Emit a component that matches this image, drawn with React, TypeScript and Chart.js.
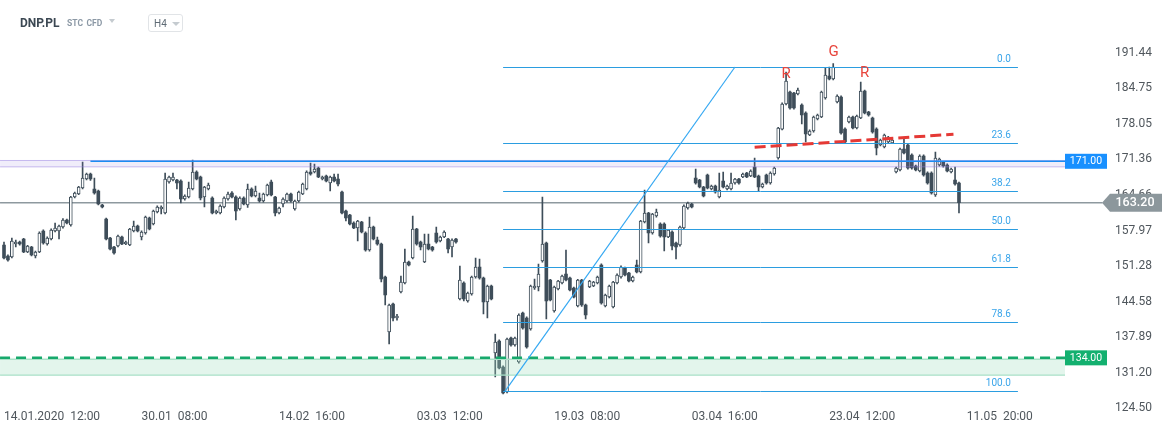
import React, { useEffect, useRef } from 'react';
import { Chart, registerables } from 'chart.js';

Chart.register(...registerables);
Chart.defaults.font.family = 'Roboto';

// ---------- DATA (H4 candles, DNP.PL) ----------
const opens = [
  155.24,153.17,152.98,155.43,155.80,156.37,153.92,154.86,153.17,153.92,
  157.87,155.43,156.37,157.87,157.87,158.63,159.95,159.00,164.27,164.84,
  165.97,167.66,168.60,165.78,165.40,162.77,160.13,156.56,154.86,155.05,
  156.75,155.43,155.24,157.87,158.82,156.75,157.50,160.32,
  159.19,161.45,162.01,161.26,167.10,167.48,167.48,167.29,163.90,164.27,
  165.78,168.98,168.04,164.27,165.78,164.09,161.26,161.26,162.39,163.90,
  165.03,164.27,162.01,164.09,162.77,165.78,164.46,164.09,163.52,164.65,
  167.10,164.27,161.26,162.96,163.52,164.84,162.01,163.52,
  164.84,165.78,168.98,168.98,169.73,167.66,168.23,166.91,168.04,167.66,
  165.22,161.64,160.89,159.38,158.44,159.57,157.50,154.30,158.63,156.18,
  155.43,149.22,138.86,144.13,141.50,146.39,148.09,152.04,152.79,158.25,
  155.80,152.04,155.43,154.86,157.50,155.99,156.75,156.37,154.86,156.37,
  145.07,148.09,144.70,146.01,149.22,151.10,149.03,144.51,147.52,
  134.91,137.17,132.27,127.57,137.73,136.41,133.21,142.44,141.50,139.43,
  147.14,147.33,152.23,155.62,148.65,142.81,146.95,148.09,149.78,149.03,
  147.14,143.76,148.65,143.94,147.33,147.52,148.09,151.47,143.76,145.45,
  143.57,148.09,149.22,150.91,149.97,148.46,151.47,150.16,159.57,161.26,
  157.50,160.70,159.19,159.19,156.75,157.69,155.62,155.24,
  158.44,162.20,162.96,167.85,167.48,166.16,168.42,165.78,166.34,164.27,
  167.29,165.78,165.78,166.91,167.66,
  168.04,168.79,168.23,169.92,168.23,166.16,168.42,166.91,168.60,171.62,
  177.07,181.78,184.04,183.85,183.66,181.59,180.09,175.95,176.70,178.96,
  179.34,182.91,187.05,186.49,182.16,183.10,177.07,178.39,179.34,177.26,
  179.15,184.23,180.28,179.15,177.07,174.06,173.69,174.63,174.44,168.98,
  169.36,173.31,174.06,172.18,170.11,169.17,172.00,168.79,168.79,164.65,
  170.30,170.86,170.30,168.98,167.48,166.91,
];
const highs = [
  155.80,153.40,156.56,156.18,156.00,156.50,155.20,155.00,154.10,157.70,
  158.10,156.80,158.30,159.38,159.00,160.20,160.10,164.40,165.20,166.30,
  170.86,168.80,168.80,167.85,165.60,162.90,160.30,156.70,155.00,157.10,
  156.90,156.00,158.40,159.76,159.00,157.90,160.70,160.50,
  161.80,162.60,162.60,168.79,168.20,168.79,167.60,167.50,164.70,167.10,
  171.24,169.20,168.20,166.30,166.91,164.30,161.80,162.80,164.30,165.20,
  165.30,164.50,164.30,164.30,166.72,166.00,166.34,165.03,165.00,166.70,
  167.48,164.40,162.40,164.10,165.00,165.00,163.70,165.40,
  166.90,169.20,170.67,170.48,169.90,168.20,168.40,168.20,168.60,168.60,
  165.40,161.80,161.00,159.60,159.90,159.70,157.70,160.51,158.80,156.75,
  155.60,149.40,144.10,144.30,142.20,149.40,154.49,152.20,160.70,158.40,
  156.00,157.31,157.31,155.00,158.63,156.90,157.90,156.50,156.40,156.50,
  151.29,148.30,146.40,149.40,152.79,152.60,149.20,147.70,147.70,
  138.49,137.40,132.50,137.70,137.90,137.90,142.30,142.60,141.70,147.70,
  148.84,151.66,164.27,155.80,148.80,147.50,148.60,149.60,154.30,149.20,
  147.30,148.80,148.80,144.10,148.60,148.40,149.40,151.70,146.00,147.70,
  148.40,149.80,151.30,151.10,150.10,149.40,152.42,159.90,165.59,161.40,
  161.20,162.01,159.40,159.40,158.20,157.90,155.80,158.80,
  162.80,163.30,163.10,169.55,167.60,166.30,168.60,166.50,166.50,168.79,
  168.98,166.50,168.79,167.80,167.80,
  168.80,168.90,169.40,171.62,168.40,166.90,168.60,169.00,169.90,177.40,
  182.00,187.81,184.20,184.00,184.80,181.80,180.30,176.90,179.50,179.90,
  184.20,188.56,188.75,189.40,183.50,183.30,177.30,179.50,179.50,179.70,
  185.92,184.40,180.40,179.30,177.30,175.20,176.10,175.70,175.20,169.90,
  173.50,175.19,174.20,172.40,170.30,172.20,172.20,169.00,169.00,172.75,
  171.60,171.00,170.50,169.70,169.92,167.10,
];
const lows = [
  152.60,152.20,152.80,154.86,155.20,153.80,153.80,153.20,152.79,153.80,
  155.40,155.20,156.20,157.70,156.37,158.40,159.20,158.80,164.10,164.70,
  165.80,167.50,167.40,164.80,162.80,162.20,156.20,154.30,153.50,154.90,
  155.30,155.30,155.10,157.70,157.70,156.18,157.30,158.10,
  159.00,161.30,161.07,161.10,166.90,167.30,165.78,163.15,163.70,164.10,
  165.60,167.50,163.71,162.39,165.60,161.10,161.10,161.10,162.20,163.70,
  164.10,159.95,161.80,162.80,162.30,164.30,164.30,163.30,163.30,164.50,
  164.50,160.70,161.10,162.39,163.30,163.30,161.80,163.30,
  164.70,165.60,168.40,168.80,167.90,167.50,167.10,165.40,167.10,166.34,
  161.10,159.76,159.00,158.30,155.99,157.50,154.10,154.10,156.20,155.20,
  148.27,143.94,136.60,140.93,141.10,146.20,147.90,151.30,152.60,155.20,
  154.30,151.90,154.30,154.10,155.60,155.80,156.60,153.73,152.98,155.60,
  144.90,144.70,144.50,145.80,149.00,148.80,142.25,141.50,144.90,
  130.39,131.90,127.19,127.40,136.20,136.20,133.00,139.40,135.80,139.20,
  146.90,146.58,152.00,141.31,144.70,142.60,146.80,147.90,148.50,146.60,
  145.30,143.60,143.70,141.31,147.20,147.40,147.90,144.10,143.60,145.30,
  143.40,147.90,149.00,149.40,148.30,148.30,150.00,150.00,159.40,155.62,
  157.30,160.50,156.70,154.11,156.60,154.30,152.60,155.00,
  158.30,162.00,162.20,166.70,166.00,164.30,165.80,165.60,165.00,164.10,
  166.00,165.60,165.60,166.70,166.70,
  167.90,167.90,168.10,167.90,165.40,166.00,166.70,166.70,168.40,171.40,
  176.90,181.60,180.80,180.80,183.50,178.02,174.63,175.80,176.50,178.80,
  179.20,182.70,186.30,186.30,182.00,176.10,174.40,178.20,177.10,177.10,
  179.00,179.90,179.50,176.30,172.18,173.90,173.50,174.40,174.30,168.80,
  169.20,172.40,169.50,169.50,169.20,169.00,168.20,166.70,164.80,164.40,
  170.10,169.90,169.00,168.80,166.50,161.26,
];
const closes = [
  152.79,152.42,155.99,155.80,155.43,153.92,155.05,153.36,153.92,157.50,
  155.62,156.56,158.06,158.44,158.82,159.95,159.38,164.27,165.03,166.16,
  167.85,168.60,167.66,165.03,162.96,162.39,156.37,154.49,153.73,156.93,
  155.43,155.80,158.25,158.82,157.87,157.69,160.51,158.25,
  161.64,162.39,162.39,167.66,168.04,168.04,166.91,163.90,164.46,165.97,
  168.98,167.66,164.09,166.16,166.53,161.26,161.64,162.58,164.09,164.84,
  164.27,161.64,164.09,162.96,165.78,164.46,165.40,163.52,164.84,166.53,
  164.65,161.26,162.20,163.90,164.84,163.52,163.52,165.22,
  166.72,168.98,168.60,169.55,168.04,168.04,167.29,168.04,167.29,166.72,
  161.26,160.32,159.19,158.44,159.76,157.69,154.30,158.63,156.37,155.43,
  148.84,145.83,143.94,141.50,141.87,148.27,152.04,151.47,158.25,155.43,
  154.86,155.43,154.49,154.30,155.80,156.75,157.69,154.49,156.18,155.80,
  148.65,145.07,146.20,149.22,151.10,149.03,144.51,147.52,145.07,
  136.98,132.08,127.38,137.54,136.41,137.73,142.06,139.61,136.04,147.52,
  147.52,149.78,155.43,144.70,144.89,147.33,148.46,149.40,148.65,146.77,
  145.45,148.65,143.94,142.06,148.46,148.27,149.22,144.32,145.83,147.52,
  148.27,149.59,151.10,149.59,148.46,149.22,150.16,159.76,161.26,157.50,
  161.07,161.45,156.93,156.75,158.06,155.05,154.86,158.63,
  162.58,163.15,162.39,166.91,166.16,164.46,165.97,166.34,165.22,165.59,
  166.16,166.34,166.91,167.66,166.91,
  168.60,168.04,169.17,168.04,166.16,166.72,166.91,168.79,169.73,177.26,
  181.78,186.11,181.03,181.03,184.42,179.71,176.13,176.70,179.34,179.71,
  184.04,187.24,186.49,188.75,183.29,176.32,174.63,179.34,177.26,179.52,
  184.23,180.09,179.71,176.51,173.50,175.01,175.95,175.57,175.01,169.73,
  173.31,172.56,169.73,169.73,169.36,172.00,168.42,166.91,165.03,171.62,
  171.43,170.11,169.17,169.55,166.72,163.20,
];

const totalSlots = 279; // candles + empty future slots on the time axis
const xTickIndices = [0, 35, 70, 105, 140, 175, 210, 245];
const xTickTexts = [
  '14.01.2020  12:00', '30.01  08:00', '14.02  16:00', '03.03  12:00',
  '19.03  08:00', '03.04  16:00', '23.04  12:00', '11.05  20:00',
];
const yTickValues = [124.5, 131.2, 137.89, 144.58, 151.28, 157.97, 164.66, 171.36, 178.05, 184.75, 191.44];
const yMin = 124.5;
const yMax = 195;

const resistanceLevel = 171.0;
const resistanceBand = [169.95, 171.15];
const resistanceStartIdx = 22;
const lastPrice = 163.2;
const supportLevel = 134.0;
const supportBand = [130.75, 134.0];

const fibLabels = ['0.0', '23.6', '38.2', '50.0', '61.8', '78.6', '100.0'];
const fibPrices = [188.75, 174.35, 165.45, 158.25, 151.05, 140.8, 127.75];
const fibStartIdx = 127;
const fibEndIdx = 258;
const trendFrom = [127.5, 127.75];
const trendTo = [186, 188.75];
const necklineFrom = [191, 173.63];
const necklineTo = [241.6, 176.08];
const patternTexts = ['R', 'G', 'R'];
const patternIdx = [199, 211.1, 219];
const patternPrices = [187.34, 191.48, 187.52];

// ---------- STYLE ----------
const CANDLE = '#3e4d59';
const AXIS_TEXT = '#50575d';

const overlayPlugin = {
  id: 'overlay',
  beforeDatasetsDraw(chart: any) {
    const { ctx, chartArea: a, scales } = chart;
    const y = scales.y;
    ctx.save();
    ctx.strokeStyle = '#8e999f';
    ctx.lineWidth = 1.5;
    ctx.beginPath();
    const yy = y.getPixelForValue(lastPrice);
    ctx.moveTo(a.left - 2, yy);
    ctx.lineTo(a.right + 4, yy);
    ctx.stroke();
    ctx.restore();
  },
  afterDatasetsDraw(chart: any) {
    const { ctx, chartArea: a, scales } = chart;
    const x = scales.x;
    const y = scales.y;
    const X = (i: number) => x.getPixelForValue(i);
    const Y = (p: number) => y.getPixelForValue(p);
    const labelLeft = a.right - 33.5;
    ctx.save();

    // resistance band (lavender) + blue line
    const bt = Y(resistanceBand[1]);
    const bb = Y(resistanceBand[0]);
    ctx.fillStyle = 'rgba(140,115,215,0.13)';
    ctx.fillRect(a.left - 2, bt, labelLeft - a.left + 2, bb - bt);
    ctx.strokeStyle = 'rgba(150,125,225,0.5)';
    ctx.lineWidth = 1;
    ctx.beginPath();
    ctx.moveTo(a.left - 2, bt); ctx.lineTo(labelLeft, bt);
    ctx.moveTo(a.left - 2, bb); ctx.lineTo(labelLeft, bb);
    ctx.stroke();
    ctx.strokeStyle = '#1b8cf2';
    ctx.lineWidth = 1.5;
    ctx.beginPath();
    ctx.moveTo(X(resistanceStartIdx), Y(resistanceLevel));
    ctx.lineTo(labelLeft, Y(resistanceLevel));
    ctx.stroke();

    // support band (green) + dashed line
    const gt = Y(supportBand[1]);
    const gb = Y(supportBand[0]);
    ctx.fillStyle = 'rgba(163,222,193,0.3)';
    ctx.fillRect(a.left - 2, gt, labelLeft - a.left + 2, gb - gt);
    ctx.strokeStyle = '#a9e1c7';
    ctx.lineWidth = 1.2;
    ctx.beginPath();
    ctx.moveTo(a.left - 2, gb); ctx.lineTo(labelLeft, gb);
    ctx.moveTo(a.left - 2, gt + 1.5); ctx.lineTo(labelLeft, gt + 1.5);
    ctx.stroke();
    ctx.strokeStyle = '#17a96c';
    ctx.lineWidth = 2.5;
    ctx.setLineDash([10, 6]);
    ctx.beginPath();
    ctx.moveTo(a.left - 2, Y(supportLevel));
    ctx.lineTo(labelLeft, Y(supportLevel));
    ctx.stroke();
    ctx.setLineDash([]);

    // fibonacci retracement
    ctx.strokeStyle = '#2b9de0';
    ctx.lineWidth = 1;
    ctx.font = '10px Roboto';
    ctx.fillStyle = '#3aa5ea';
    ctx.textAlign = 'right';
    ctx.textBaseline = 'middle';
    fibPrices.forEach((p, k) => {
      const py = Math.round(Y(p)) + 0.5;
      ctx.beginPath();
      ctx.moveTo(X(fibStartIdx), py);
      ctx.lineTo(X(fibEndIdx), py);
      ctx.stroke();
      ctx.fillText(fibLabels[k], X(fibEndIdx) - 7, py - 8);
    });

    // trend line
    ctx.strokeStyle = '#35a8f2';
    ctx.lineWidth = 1.2;
    ctx.beginPath();
    ctx.moveTo(X(trendFrom[0]), Y(trendFrom[1]));
    ctx.lineTo(X(trendTo[0]), Y(trendTo[1]));
    ctx.stroke();

    // neckline (red dashed)
    ctx.strokeStyle = '#e53935';
    ctx.lineWidth = 3;
    ctx.setLineDash([11, 5]);
    ctx.beginPath();
    ctx.moveTo(X(necklineFrom[0]), Y(necklineFrom[1]));
    ctx.lineTo(X(necklineTo[0]), Y(necklineTo[1]));
    ctx.stroke();
    ctx.setLineDash([]);

    // R G R labels
    ctx.font = '15px Roboto';
    ctx.fillStyle = '#e8453c';
    ctx.textAlign = 'center';
    ctx.textBaseline = 'middle';
    patternTexts.forEach((t, k) => {
      ctx.fillText(t, X(patternIdx[k]), Y(patternPrices[k]));
    });
    ctx.restore();
  },
  afterDraw(chart: any) {
    const { ctx, chartArea: a, scales } = chart;
    const Y = (p: number) => scales.y.getPixelForValue(p);
    const labelLeft = a.right - 33.5;
    ctx.save();
    ctx.textAlign = 'center';
    ctx.textBaseline = 'middle';
    ctx.font = '10.5px Roboto';
    const box = (level: number, color: string) => {
      const cy = Y(level);
      ctx.fillStyle = color;
      ctx.fillRect(labelLeft, cy - 7.5, 42, 15);
      ctx.fillStyle = '#ffffff';
      ctx.fillText(level.toFixed(2), labelLeft + 21, cy + 0.5);
    };
    box(resistanceLevel, '#1890ff');
    box(supportLevel, '#13b06f');

    // last price arrow label
    const cy = Y(lastPrice);
    const tip = a.right + 3.5;
    const rEnd = a.right + 63.5;
    ctx.fillStyle = '#8c979c';
    ctx.beginPath();
    ctx.moveTo(tip, cy);
    ctx.lineTo(tip + 8, cy - 9);
    ctx.lineTo(rEnd, cy - 9);
    ctx.lineTo(rEnd, cy + 9);
    ctx.lineTo(tip + 8, cy + 9);
    ctx.closePath();
    ctx.fill();
    ctx.fillStyle = '#ffffff';
    ctx.font = '500 12.5px Roboto';
    ctx.fillText(lastPrice.toFixed(2), tip + 33, cy + 0.5);
    ctx.restore();
  },
};

export default function App() {
  const canvasRef = useRef<HTMLCanvasElement | null>(null);

  useEffect(() => {
    const canvas = canvasRef.current;
    if (!canvas) return;
    const labels = Array.from({ length: totalSlots }, (_, i) => String(i));
    const bodies = opens.map((o, i) => [Math.min(o, closes[i]), Math.max(o, closes[i])]);
    const wicks = lows.map((l, i) => [l, highs[i]]);
    const isUp = opens.map((o, i) => closes[i] >= o);

    const chart = new Chart(canvas, {
      type: 'bar',
      data: {
        labels,
        datasets: [
          {
            data: bodies as any,
            backgroundColor: isUp.map((u) => (u ? '#ffffff' : CANDLE)),
            borderColor: CANDLE,
            borderWidth: isUp.map((u) => (u ? 1 : 0)) as any,
            borderSkipped: false,
            barThickness: 3,
            minBarLength: 1,
            grouped: false,
          } as any,
          {
            data: wicks as any,
            backgroundColor: CANDLE,
            borderWidth: 0,
            barThickness: 1,
            grouped: false,
          } as any,
        ],
      },
      options: {
        responsive: false,
        maintainAspectRatio: false,
        animation: false,
        events: [],
        layout: { padding: { top: 33.8, left: 2.035, right: 0, bottom: 0 } },
        plugins: {
          legend: { display: false },
          tooltip: { enabled: false },
        },
        scales: {
          x: {
            type: 'category',
            offset: true,
            grid: { display: false, drawTicks: false },
            border: { display: false },
            ticks: {
              autoSkip: false,
              maxRotation: 0,
              minRotation: 0,
              align: 'start',
              padding: 1,
              color: AXIS_TEXT,
              font: { size: 12, family: 'Roboto' },
              callback: (_v: any, i: number) => {
                const k = xTickIndices.indexOf(i);
                return k >= 0 ? xTickTexts[k] : '';
              },
            },
            afterFit: (s: any) => {
              s.height = 23.7;
            },
          },
          y: {
            position: 'right',
            min: yMin,
            max: yMax,
            grid: { display: false, drawTicks: false },
            border: { display: false },
            afterBuildTicks: (s: any) => {
              s.ticks = yTickValues.map((v) => ({ value: v }));
            },
            afterFit: (s: any) => {
              s.width = 76.5;
            },
            ticks: {
              padding: 16.5,
              color: AXIS_TEXT,
              font: { size: 12, family: 'Roboto' },
              callback: (v: any) => Number(v).toFixed(2),
            },
          },
        },
      } as any,
      plugins: [overlayPlugin],
    });
    return () => chart.destroy();
  }, []);

  const tri = (left: number, top: number, w: number, h: number, color: string) => ({
    position: 'absolute' as const,
    left,
    top,
    width: 0,
    height: 0,
    borderLeft: `${w / 2}px solid transparent`,
    borderRight: `${w / 2}px solid transparent`,
    borderTop: `${h}px solid ${color}`,
  });

  return (
    <div style={{ position: 'absolute', left: 0, top: 0, width: 1175, height: 432, background: '#ffffff', fontFamily: 'Roboto, sans-serif', overflow: 'hidden' }}>
      <canvas ref={canvasRef} width={1175} height={432} style={{ position: 'absolute', left: 0, top: 0, width: 1175, height: 432 }} />
      <div style={{ position: 'absolute', left: 20, top: 17, fontSize: 12, lineHeight: '12px', fontWeight: 700, color: '#3b4752' }}>DNP.PL</div>
      <div style={{ position: 'absolute', left: 67, top: 18.5, fontSize: 8.5, lineHeight: '9px', fontWeight: 700, color: '#8b98a5' }}>STC</div>
      <div style={{ position: 'absolute', left: 86.5, top: 18.5, fontSize: 8.5, lineHeight: '9px', fontWeight: 700, color: '#8b98a5' }}>CFD</div>
      <div style={tri(108.5, 19, 7, 4, '#c5cbd0')} />
      <div style={{ position: 'absolute', left: 148, top: 14, width: 35, height: 18, boxSizing: 'border-box', border: '1px solid #e1e4e7', borderRadius: 3 }} />
      <div style={{ position: 'absolute', left: 154, top: 19, fontSize: 10, lineHeight: '10px', color: '#5f6b75' }}>H4</div>
      <div style={tri(172, 22, 8, 4, '#c5cbd0')} />
    </div>
  );
}
